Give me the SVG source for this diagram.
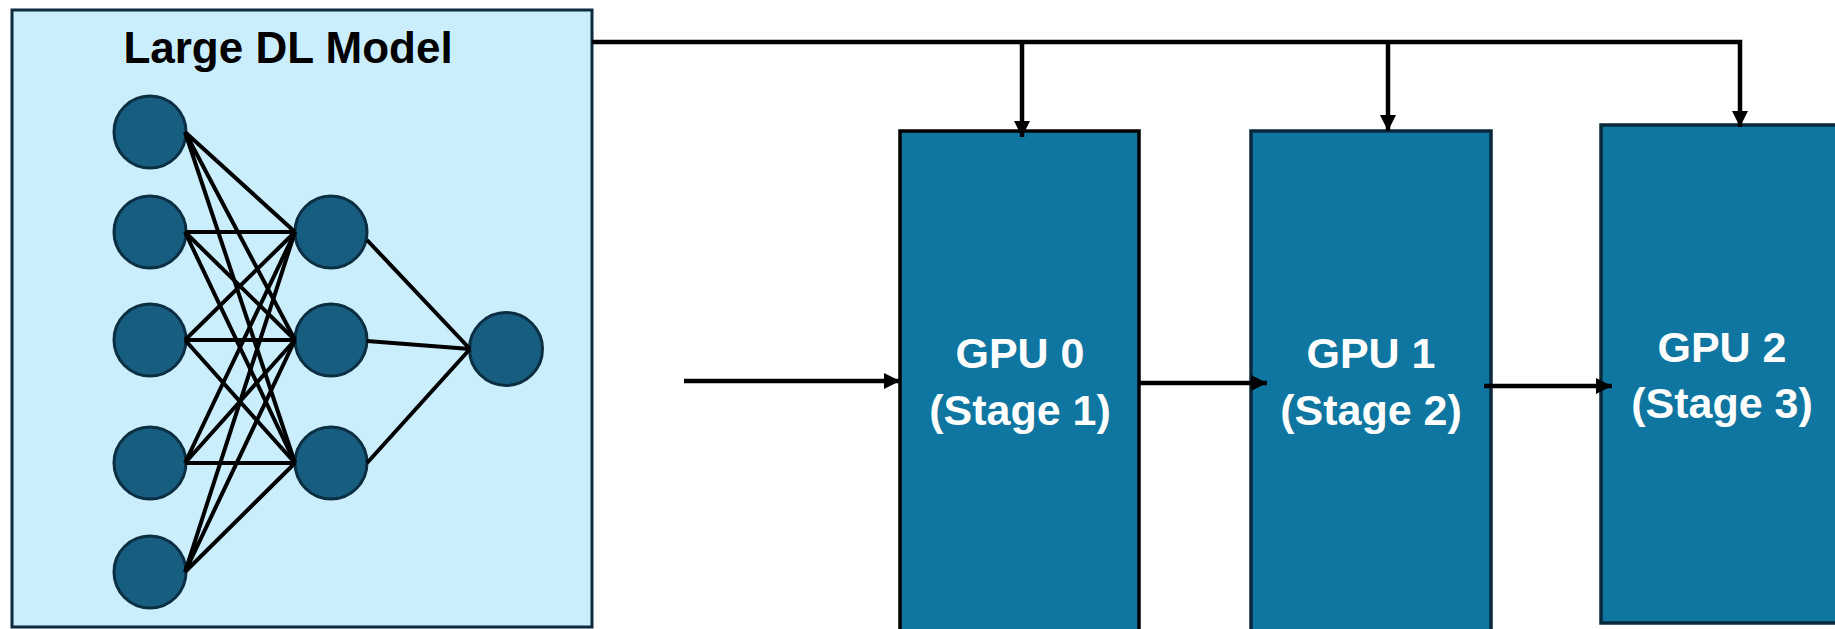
<svg xmlns="http://www.w3.org/2000/svg" width="1835" height="629" viewBox="0 0 1835 629">
<defs>
<style>
.model{fill:#CAEEFB;stroke:#0D2B3E;stroke-width:3}
.neuron{fill:#175D7F;stroke:#0C2E42;stroke-width:3}
.gpu{fill:#0E76A0;stroke:#0A2A3C;stroke-width:3.5}
.edge{stroke:#000;stroke-width:4;fill:none;stroke-linecap:butt}
.conn{stroke:#000;stroke-width:4.5;fill:none;stroke-linejoin:miter}
.title{font-family:"Liberation Sans",Arial,sans-serif;font-weight:bold;font-size:44px;fill:#000;text-anchor:middle}
.gtext{font-family:"Liberation Sans",Arial,sans-serif;font-weight:bold;font-size:43px;fill:#fff;text-anchor:middle}
</style>
<marker id="arr" markerUnits="userSpaceOnUse" markerWidth="16" markerHeight="16" refX="16" refY="8" orient="auto">
<path d="M0,0 L16,8 L0,16 z" fill="#000"/>
</marker>
</defs>
<rect width="1835" height="629" fill="#fff"/>

<g id="large-dl-model">
<rect class="model" x="12" y="10" width="580" height="617"/>
<text class="title" x="288" y="63">Large DL Model</text>
</g>

<g id="gpu0">
<rect class="gpu" x="900" y="131" width="239" height="505" style="stroke:#000"/>
<text class="gtext" x="1020" y="368">GPU 0</text>
<text class="gtext" x="1020" y="425">(Stage 1)</text>
</g>
<g id="gpu1">
<rect class="gpu" x="1251" y="131" width="240" height="505"/>
<text class="gtext" x="1371" y="368">GPU 1</text>
<text class="gtext" x="1371" y="425">(Stage 2)</text>
</g>
<g id="gpu2">
<rect class="gpu" x="1601" y="125" width="242" height="498"/>
<text class="gtext" x="1722" y="362">GPU 2</text>
<text class="gtext" x="1722" y="418">(Stage 3)</text>
</g>

<g id="in1"><circle class="neuron" cx="150" cy="132" r="36"/></g>
<g id="in2"><circle class="neuron" cx="150" cy="232" r="36"/></g>
<g id="in3"><circle class="neuron" cx="150" cy="340" r="36"/></g>
<g id="in4"><circle class="neuron" cx="150" cy="463" r="36"/></g>
<g id="in5"><circle class="neuron" cx="150" cy="572" r="36"/></g>
<g id="hid1"><circle class="neuron" cx="331" cy="232" r="36"/></g>
<g id="hid2"><circle class="neuron" cx="331" cy="340" r="36"/></g>
<g id="hid3"><circle class="neuron" cx="331" cy="463" r="36"/></g>
<g id="out1"><circle class="neuron" cx="506" cy="349" r="36.5"/></g>

<g id="nn-edges" class="edge">
<path d="M185,132 L295,232 M185,132 L295,340 M185,132 L295,463"/>
<path d="M185,232 L295,232 M185,232 L295,340 M185,232 L295,463"/>
<path d="M185,340 L295,232 M185,340 L295,340 M185,340 L295,463"/>
<path d="M185,463 L295,232 M185,463 L295,340 M185,463 L295,463"/>
<path d="M185,572 L295,232 M185,572 L295,340 M185,572 L295,463"/>
<path d="M367,240 L470,349 M367,341 L470,349 M367,463 L470,349"/>
</g>

<g id="connectors">
<path class="conn" d="M592,42 H1740 V127" marker-end="url(#arr)"/>
<path class="conn" d="M1022,42 V137" marker-end="url(#arr)"/>
<path class="conn" d="M1388,42 V131" marker-end="url(#arr)"/>
<path class="conn" d="M684,381 H900" marker-end="url(#arr)"/>
<path class="conn" d="M1139,383 H1267" marker-end="url(#arr)"/>
<path class="conn" d="M1484,386 H1612" marker-end="url(#arr)"/>
</g>
</svg>
